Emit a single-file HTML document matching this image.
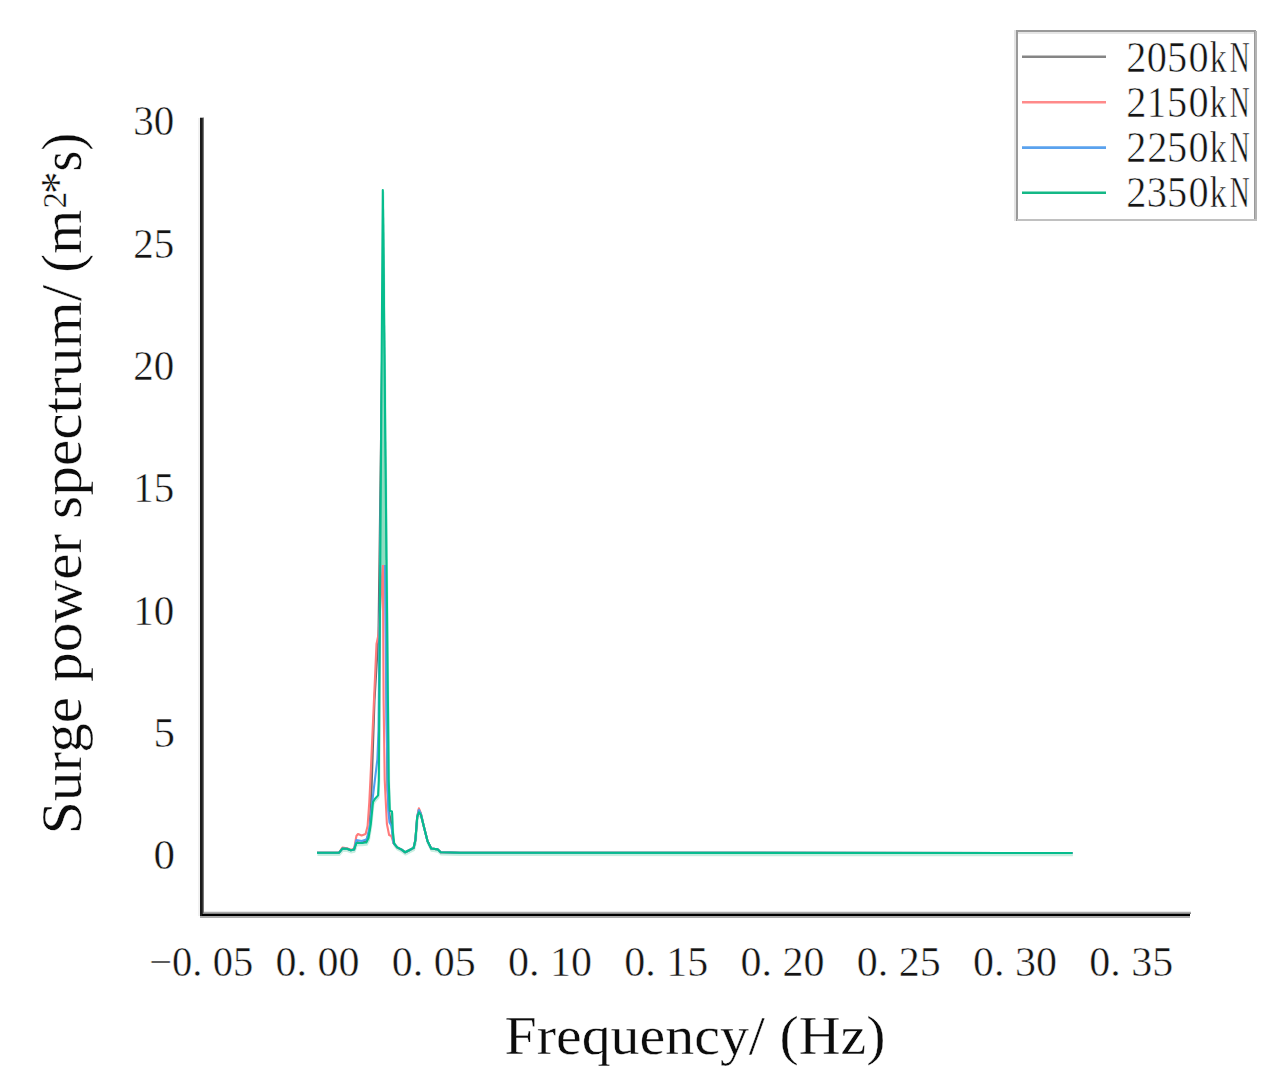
<!DOCTYPE html>
<html><head><meta charset="utf-8"><style>
html,body{margin:0;padding:0;background:#fff;width:1279px;height:1091px;overflow:hidden}
svg{position:absolute;left:0;top:0;display:block}
text{font-family:"Liberation Serif",serif;fill:#141414}
.thin text{stroke:#fff;stroke-width:0.45px}
.thinner text{stroke:#fff;stroke-width:0.55px}
.ttl text{fill:#0c0c0c;stroke:#fff;stroke-width:0.35px}
</style></head><body>
<svg width="1279" height="1091" viewBox="0 0 1279 1091">
<rect width="1279" height="1091" fill="#fff"/>
<!-- axes -->
<rect x="198" y="118" width="2" height="798" fill="#f1f1f1"/>
<rect x="200" y="911" width="991" height="1" fill="#e8e8e8"/>
<rect x="200" y="912" width="991" height="1" fill="#aaaaaa"/>
<rect x="200" y="913" width="991" height="1" fill="#858585"/>
<rect x="200" y="914" width="990" height="2" fill="#000"/>
<rect x="200" y="916" width="990" height="2" fill="#adadad"/>
<rect x="200" y="118" width="2" height="798" fill="#1a1a1a"/>
<rect x="202" y="118" width="1" height="796" fill="#333"/>
<rect x="203" y="118" width="1" height="795" fill="#777"/>
<rect x="200" y="117" width="4" height="1" fill="#bbb"/>
<!-- y labels -->
<g class="thin" font-size="43" text-anchor="end">
<text x="174.2" y="135.2" textLength="41" lengthAdjust="spacingAndGlyphs">30</text>
<text x="174.2" y="257.6" textLength="41" lengthAdjust="spacingAndGlyphs">25</text>
<text x="174.2" y="379.9" textLength="41" lengthAdjust="spacingAndGlyphs">20</text>
<text x="174.2" y="502.3" textLength="41" lengthAdjust="spacingAndGlyphs">15</text>
<text x="174.2" y="624.7" textLength="41" lengthAdjust="spacingAndGlyphs">10</text>
<text x="174.9" y="747.0">5</text>
<text x="174.9" y="869.4">0</text>
</g>
<!-- x labels -->
<g class="thin" font-size="42" text-anchor="middle">
<text x="201.2" y="976.2" textLength="104" lengthAdjust="spacingAndGlyphs">&#8722;0. 05</text>
<text x="317.5" y="976.2" textLength="84" lengthAdjust="spacingAndGlyphs">0. 00</text>
<text x="433.7" y="976.2" textLength="84" lengthAdjust="spacingAndGlyphs">0. 05</text>
<text x="550.0" y="976.2" textLength="84" lengthAdjust="spacingAndGlyphs">0. 10</text>
<text x="666.2" y="976.2" textLength="84" lengthAdjust="spacingAndGlyphs">0. 15</text>
<text x="782.5" y="976.2" textLength="84" lengthAdjust="spacingAndGlyphs">0. 20</text>
<text x="898.8" y="976.2" textLength="84" lengthAdjust="spacingAndGlyphs">0. 25</text>
<text x="1015.0" y="976.2" textLength="84" lengthAdjust="spacingAndGlyphs">0. 30</text>
<text x="1131.3" y="976.2" textLength="84" lengthAdjust="spacingAndGlyphs">0. 35</text>
</g>
<!-- titles -->
<g class="ttl">
<text x="504.5" y="1053.5" font-size="54" textLength="381" lengthAdjust="spacingAndGlyphs">Frequency/ (Hz)</text>
<text transform="translate(80.5,834.24) rotate(-90) scale(1.0601,1)" font-size="56">Surge power spectrum/</text>
<text transform="translate(80.5,272.7) rotate(-90) scale(1.01,1)" font-size="56">(m</text>
<text transform="translate(65.9,208.5) rotate(-90)" font-size="33">2</text>
<text transform="translate(73.9,194) rotate(-90) scale(0.94,1)" font-size="48">*</text>
<text transform="translate(80.5,171.5) rotate(-90) scale(0.953,1)" font-size="56">s)</text>
</g>
<!-- legend -->
<rect x="1017" y="31" width="238" height="189" fill="#fff" stroke="#9a9a9a" stroke-width="2"/>
<rect x="1255" y="31" width="2" height="190" fill="#b4b4b4"/>
<rect x="1014" y="30" width="2" height="191" fill="#e4e4e4"/>
<rect x="1018" y="32" width="236" height="2" fill="#e6e6e6"/>
<rect x="1017" y="219" width="240" height="2" fill="#c0c0c0"/>
<g stroke-width="2.6">
<line x1="1022" y1="56.7" x2="1106" y2="56.7" stroke="#858585"/>
<line x1="1022" y1="102.2" x2="1106" y2="102.2" stroke="#ff8a8a"/>
<line x1="1022" y1="147.6" x2="1106" y2="147.6" stroke="#5aa2ee"/>
<line x1="1022" y1="192.8" x2="1106" y2="192.8" stroke="#14b886"/>
</g>
<g class="thinner" font-size="44.5">
<text transform="translate(1126.37,71.5) scale(0.905,1)">2</text>
<text transform="translate(1146.70,71.5) scale(0.905,1)">0</text>
<text transform="translate(1166.93,71.5) scale(0.905,1)">5</text>
<text transform="translate(1188.50,71.5) scale(0.905,1)">0</text>
<text transform="translate(1209.66,71.5) scale(0.759,1)">k</text>
<text transform="translate(1229.86,71.5) scale(0.620,1)">N</text>
<text transform="translate(1126.37,116.7) scale(0.905,1)">2</text>
<text transform="translate(1146.88,116.7) scale(0.850,1)">1</text>
<text transform="translate(1166.93,116.7) scale(0.905,1)">5</text>
<text transform="translate(1188.50,116.7) scale(0.905,1)">0</text>
<text transform="translate(1209.66,116.7) scale(0.759,1)">k</text>
<text transform="translate(1229.86,116.7) scale(0.620,1)">N</text>
<text transform="translate(1126.37,161.9) scale(0.905,1)">2</text>
<text transform="translate(1147.17,161.9) scale(0.905,1)">2</text>
<text transform="translate(1166.93,161.9) scale(0.905,1)">5</text>
<text transform="translate(1188.50,161.9) scale(0.905,1)">0</text>
<text transform="translate(1209.66,161.9) scale(0.759,1)">k</text>
<text transform="translate(1229.86,161.9) scale(0.620,1)">N</text>
<text transform="translate(1126.37,207.3) scale(0.905,1)">2</text>
<text transform="translate(1146.70,207.3) scale(0.905,1)">3</text>
<text transform="translate(1166.93,207.3) scale(0.905,1)">5</text>
<text transform="translate(1188.50,207.3) scale(0.905,1)">0</text>
<text transform="translate(1209.66,207.3) scale(0.759,1)">k</text>
<text transform="translate(1229.86,207.3) scale(0.620,1)">N</text>
</g>
<!-- DATA -->
<path d="M317.0,852.8 L339.1,852.6 L342.4,848.6 L347.0,848.8 L350.8,850.2 L354.1,849.4 L356.4,843.0 L361.6,843.0 L366.3,842.5 L368.5,838.0 L370.8,824.0 L373.0,802.0 L374.8,799.0 L378.1,795.4 L378.8,780.0 L382.8,190.0 L388.7,780.0 L389.8,810.8 L392.0,811.5 L392.8,831.3 L394.2,843.7 L397.2,847.4 L401.6,849.6 L405.2,852.3 L409.2,850.2 L413.6,847.9 L415.4,840.0 L417.2,817.0 L418.9,812.3 L420.9,814.9 L423.9,826.7 L427.5,841.0 L431.2,848.5 L437.8,849.4 L440.7,852.3 L460.0,852.8 L1072.5,853.0" transform="translate(0.4,2.2)" fill="none" stroke="#c8eee0" stroke-width="2.2" stroke-linejoin="round"/>
<path d="M317.0,852.8 L339.1,852.6 L342.4,848.6 L347.0,848.8 L350.8,850.2 L354.1,849.4 L356.4,842.0 L361.6,843.0 L366.3,841.0 L369.5,830.0 L371.5,790.0 L374.5,700.0 L378.5,634.0 L382.8,303.0 L387.5,790.0 L389.0,812.0 L391.5,825.0 L393.5,843.0 L397.2,847.4 L401.6,849.6 L405.2,852.3 L409.2,850.2 L413.6,847.9 L415.4,840.0 L417.2,817.0 L418.9,809.5 L420.9,814.0 L423.9,826.7 L427.5,841.0 L431.2,848.5 L437.8,849.4 L440.7,852.3 L460.0,852.8 L1072.5,853.0" fill="none" stroke="#6a6a6a" stroke-width="2.1" stroke-linejoin="round"/>
<path d="M317.0,852.8 L339.1,852.6 L342.4,847.5 L347.0,848.3 L350.8,849.8 L354.1,849.0 L356.4,836.0 L358.0,834.0 L361.6,835.5 L365.6,834.0 L367.6,826.0 L369.3,802.0 L370.4,780.0 L376.5,644.0 L378.6,634.0 L382.9,562.5 L383.6,700.0 L384.7,780.0 L386.9,824.0 L389.1,835.0 L391.3,836.0 L393.5,843.0 L397.2,847.4 L401.6,849.6 L405.2,852.3 L409.2,850.2 L413.6,847.9 L415.4,840.0 L417.2,817.0 L418.9,808.3 L420.9,813.5 L423.9,826.7 L427.5,841.0 L431.2,848.5 L437.8,849.4 L440.7,852.3 L460.0,852.8 L1072.5,853.0" fill="none" stroke="#ff7b7b" stroke-width="2.1" stroke-linejoin="round"/>
<path d="M317.0,852.8 L339.1,852.6 L342.4,848.6 L347.0,848.8 L350.8,850.2 L354.1,849.4 L356.4,840.0 L361.6,841.0 L366.3,839.5 L367.5,837.0 L370.0,825.0 L372.5,800.0 L377.4,759.0 L378.5,730.0 L382.8,313.0 L386.5,720.0 L388.4,811.5 L389.5,822.5 L391.5,826.0 L393.5,843.0 L397.2,847.4 L401.6,849.6 L405.2,852.3 L409.2,850.2 L413.6,847.9 L415.4,840.0 L417.2,817.0 L418.9,810.0 L420.9,814.0 L423.9,826.7 L427.5,841.0 L431.2,848.5 L437.8,849.4 L440.7,852.3 L460.0,852.8 L1072.5,853.0" fill="none" stroke="#4f9ef0" stroke-width="2.1" stroke-linejoin="round"/>
<path d="M379.6,565 L382.8,192 L386.2,565 Z" fill="#8fdcc1"/>
<path d="M383.3,200 L386.4,560" stroke="#11a593" stroke-width="1.3" fill="none"/>
<path d="M317.0,852.8 L339.1,852.6 L342.4,848.6 L347.0,848.8 L350.8,850.2 L354.1,849.4 L356.4,843.0 L361.6,843.0 L366.3,842.5 L368.5,838.0 L370.8,824.0 L373.0,802.0 L374.8,799.0 L378.1,795.4 L378.8,780.0 L382.8,190.0 L388.7,780.0 L389.8,810.8 L392.0,811.5 L392.8,831.3 L394.2,843.7 L397.2,847.4 L401.6,849.6 L405.2,852.3 L409.2,850.2 L413.6,847.9 L415.4,840.0 L417.2,817.0 L418.9,812.3 L420.9,814.9 L423.9,826.7 L427.5,841.0 L431.2,848.5 L437.8,849.4 L440.7,852.3 L460.0,852.8 L1072.5,853.0" fill="none" stroke="#05bd8d" stroke-width="2.1" stroke-linejoin="round"/>
</svg>
</body></html>
